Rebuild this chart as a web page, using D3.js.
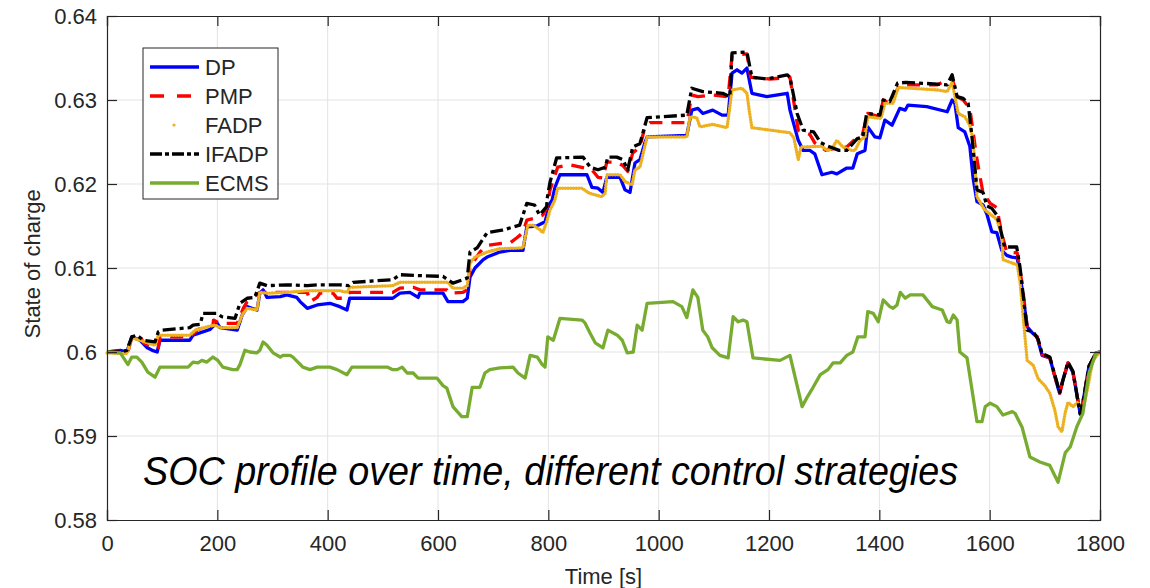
<!DOCTYPE html>
<html>
<head>
<meta charset="utf-8">
<script src="https://cdn.jsdelivr.net/npm/d3@7"></script>
<style>
  body { margin: 0; background: #fff; }
  svg text { font-family: "Liberation Sans", Arial, sans-serif; fill: #262626; }
</style>
</head>
<body>
<div id="chart"></div>
<script>
// series: [time s, state of charge]
var dpData = [[0,.6000],[24,.6002],[36,.6000],[45,.6018],[60,.6014],[73,.6005],[82,.6002],[91,.6000],[96,.6014],[150,.6014],[156,.6020],[187,.6027],[199,.6035],[205,.6029],[236,.6026],[245,.6044],[254,.6054],[272,.6050],[277,.6070],[283,.6074],[290,.6065],[314,.6066],[326,.6068],[344,.6065],[350,.6060],[363,.6052],[381,.6056],[404,.6058],[422,.6054],[435,.6050],[440,.6064],[518,.6064],[531,.6070],[549,.6071],[564,.6065],[567,.6070],[609,.6070],[618,.6060],[645,.6060],[653,.6064],[658,.6089],[667,.6100],[682,.6110],[689,.6113],[712,.6119],[731,.6121],[754,.6121],[761,.6149],[779,.6150],[794,.6155],[798,.6165],[803,.6177],[807,.6181],[812,.6196],[821,.6211],[870,.6211],[879,.6196],[890,.6195],[899,.6190],[906,.6208],[930,.6208],[939,.6193],[948,.6190],[957,.6225],[966,.6229],[975,.6249],[979,.6256],[1051,.6258],[1060,.6288],[1071,.6290],[1080,.6284],[1098,.6288],[1115,.6282],[1126,.6282],[1133,.6332],[1142,.6336],[1151,.6332],[1160,.6338],[1169,.6308],[1196,.6304],[1233,.6308],[1238,.6288],[1253,.6252],[1262,.6240],[1274,.6240],[1283,.6236],[1296,.6211],[1314,.6214],[1323,.6212],[1341,.6219],[1352,.6219],[1360,.6236],[1374,.6240],[1379,.6268],[1392,.6256],[1401,.6255],[1410,.6276],[1423,.6270],[1437,.6290],[1447,.6288],[1452,.6294],[1486,.6292],[1523,.6286],[1532,.6300],[1537,.6296],[1543,.6267],[1555,.6262],[1564,.6245],[1570,.6207],[1577,.6179],[1588,.6175],[1595,.6164],[1604,.6143],[1613,.6142],[1622,.6121],[1631,.6115],[1640,.6113],[1650,.6112],[1659,.6074],[1668,.6030],[1677,.6023],[1686,.6018],[1695,.5996],[1709,.5993],[1724,.5957],[1727,.5951],[1733,.5967],[1742,.5987],[1751,.5976],[1764,.5927],[1769,.5940],[1780,.5983],[1793,.5999],[1800,.6000]];

var pmpData = [[0,.6000],[24,.6001],[38,.6000],[45,.6018],[63,.6015],[66,.6011],[84,.6005],[93,.6005],[96,.6018],[150,.6018],[165,.6027],[192,.6031],[193,.6038],[205,.6034],[236,.6034],[247,.6052],[254,.6060],[277,.6071],[290,.6071],[363,.6071],[368,.6060],[381,.6065],[386,.6070],[410,.6070],[417,.6064],[431,.6064],[440,.6071],[518,.6071],[531,.6076],[555,.6077],[567,.6074],[616,.6074],[620,.6070],[645,.6071],[653,.6074],[658,.6101],[676,.6119],[689,.6127],[712,.6129],[731,.6130],[743,.6136],[754,.6142],[761,.6157],[779,.6160],[790,.6163],[798,.6173],[803,.6193],[817,.6220],[839,.6223],[879,.6217],[890,.6208],[899,.6207],[906,.6226],[924,.6226],[935,.6222],[944,.6215],[953,.6237],[966,.6244],[975,.6268],[984,.6273],[1051,.6273],[1060,.6306],[1071,.6304],[1098,.6306],[1126,.6304],[1133,.6353],[1160,.6355],[1167,.6327],[1202,.6325],[1238,.6327],[1253,.6264],[1262,.6261],[1274,.6259],[1283,.6249],[1303,.6240],[1323,.6243],[1341,.6244],[1360,.6256],[1369,.6258],[1379,.6284],[1401,.6280],[1407,.6300],[1419,.6296],[1437,.6318],[1505,.6318],[1523,.6324],[1532,.6326],[1541,.6304],[1552,.6300],[1564,.6290],[1577,.6229],[1588,.6189],[1601,.6177],[1613,.6172],[1622,.6140],[1631,.6119],[1650,.6118],[1659,.6080],[1668,.6030],[1677,.6023],[1686,.6018],[1695,.5997],[1709,.5993],[1724,.5957],[1727,.5951],[1733,.5967],[1742,.5987],[1751,.5976],[1764,.5927],[1769,.5940],[1780,.5983],[1793,.5999],[1800,.6000]];

var fadpData = [[0,.5999],[36,.5998],[45,.6017],[60,.6014],[73,.6011],[87,.6008],[93,.6020],[150,.6020],[160,.6026],[187,.6031],[196,.6032],[205,.6029],[236,.6029],[245,.6044],[254,.6052],[272,.6050],[277,.6071],[290,.6070],[326,.6071],[363,.6073],[422,.6073],[435,.6071],[440,.6077],[518,.6079],[531,.6083],[618,.6083],[627,.6076],[645,.6076],[653,.6079],[658,.6106],[667,.6113],[689,.6119],[712,.6123],[754,.6124],[763,.6151],[772,.6151],[784,.6146],[790,.6142],[798,.6157],[803,.6169],[812,.6181],[817,.6195],[861,.6195],[874,.6189],[897,.6185],[903,.6189],[906,.6211],[930,.6211],[939,.6203],[952,.6199],[957,.6217],[966,.6220],[979,.6256],[1051,.6256],[1057,.6280],[1069,.6279],[1075,.6268],[1098,.6271],[1124,.6267],[1133,.6312],[1151,.6314],[1160,.6308],[1164,.6288],[1169,.6267],[1238,.6261],[1245,.6255],[1253,.6229],[1258,.6244],[1296,.6245],[1305,.6240],[1314,.6242],[1323,.6252],[1334,.6244],[1350,.6240],[1356,.6240],[1365,.6252],[1374,.6256],[1379,.6280],[1403,.6278],[1410,.6296],[1425,.6296],[1434,.6315],[1505,.6312],[1523,.6310],[1532,.6321],[1543,.6284],[1555,.6280],[1564,.6270],[1570,.6252],[1577,.6185],[1590,.6170],[1601,.6164],[1613,.6158],[1622,.6138],[1624,.6110],[1640,.6106],[1650,.6104],[1655,.6083],[1664,.6018],[1668,.5990],[1679,.5984],[1688,.5968],[1700,.5960],[1709,.5951],[1718,.5931],[1724,.5911],[1731,.5905],[1737,.5928],[1742,.5940],[1751,.5935],[1760,.5940],[1769,.5931],[1778,.5958],[1787,.5990],[1800,.6000]];

var ifadpData = [[0,.6000],[24,.6000],[36,.6002],[45,.6018],[54,.6020],[66,.6014],[87,.6012],[93,.6024],[100,.6026],[150,.6029],[156,.6032],[169,.6033],[174,.6046],[199,.6046],[208,.6042],[232,.6040],[241,.6058],[254,.6064],[268,.6065],[277,.6082],[290,.6079],[326,.6080],[363,.6079],[381,.6080],[422,.6080],[438,.6079],[446,.6083],[518,.6086],[531,.6092],[564,.6091],[609,.6090],[627,.6082],[645,.6086],[653,.6088],[658,.6119],[671,.6124],[689,.6142],[716,.6145],[748,.6151],[761,.6177],[775,.6175],[784,.6163],[797,.6173],[798,.6183],[803,.6202],[815,.6231],[863,.6232],[876,.6220],[890,.6217],[903,.6220],[908,.6232],[924,.6232],[935,.6229],[944,.6217],[953,.6244],[966,.6248],[979,.6279],[1051,.6282],[1060,.6314],[1080,.6310],[1116,.6308],[1129,.6304],[1133,.6356],[1160,.6357],[1169,.6327],[1196,.6325],[1233,.6330],[1238,.6327],[1251,.6284],[1262,.6264],[1281,.6262],[1294,.6249],[1307,.6245],[1327,.6240],[1341,.6240],[1360,.6254],[1370,.6256],[1377,.6284],[1401,.6282],[1407,.6300],[1419,.6298],[1433,.6320],[1448,.6321],[1505,.6319],[1523,.6318],[1532,.6330],[1541,.6304],[1552,.6302],[1561,.6296],[1568,.6256],[1577,.6193],[1588,.6190],[1595,.6174],[1604,.6171],[1613,.6163],[1619,.6148],[1627,.6125],[1649,.6125],[1655,.6101],[1668,.6026],[1679,.6024],[1688,.6015],[1695,.5998],[1709,.5994],[1724,.5959],[1727,.5952],[1733,.5967],[1742,.5988],[1751,.5977],[1764,.5926],[1769,.5940],[1780,.5983],[1793,.5999],[1800,.6000]];

var ecmsData = [[0,.6000],[24,.5999],[33,.5990],[38,.5985],[45,.5994],[54,.5994],[63,.5988],[74,.5976],[87,.5970],[96,.5982],[147,.5982],[156,.5988],[165,.5987],[172,.5990],[181,.5988],[192,.5994],[201,.5990],[210,.5982],[228,.5979],[236,.5979],[241,.5985],[250,.6002],[259,.6000],[272,.5999],[277,.6002],[283,.6012],[290,.6008],[301,.5999],[314,.5994],[319,.5996],[332,.5996],[337,.5994],[355,.5982],[368,.5979],[381,.5982],[404,.5982],[417,.5979],[435,.5973],[444,.5982],[508,.5982],[518,.5979],[526,.5979],[535,.5982],[544,.5975],[555,.5975],[564,.5969],[598,.5969],[609,.5960],[616,.5957],[627,.5935],[643,.5923],[653,.5923],[662,.5958],[676,.5958],[685,.5975],[694,.5979],[712,.5981],[736,.5982],[745,.5975],[758,.5969],[767,.5996],[780,.5994],[789,.5985],[794,.5982],[799,.6018],[809,.6014],[821,.6040],[861,.6038],[866,.6035],[876,.6022],[885,.6011],[899,.6005],[908,.6026],[925,.6020],[934,.6014],[943,.5999],[954,.6000],[961,.6032],[970,.6026],[979,.6058],[1026,.6060],[1042,.6054],[1051,.6041],[1062,.6074],[1071,.6065],[1080,.6026],[1089,.6018],[1097,.6005],[1111,.5996],[1126,.5993],[1135,.6042],[1144,.6036],[1153,.6038],[1160,.6036],[1171,.5993],[1220,.5990],[1238,.5996],[1260,.5935],[1269,.5946],[1280,.5958],[1293,.5973],[1307,.5979],[1316,.5987],[1329,.5987],[1341,.5996],[1352,.6000],[1361,.6018],[1374,.6018],[1379,.6048],[1389,.6046],[1398,.6036],[1407,.6062],[1419,.6054],[1425,.6052],[1432,.6056],[1438,.6071],[1447,.6064],[1456,.6068],[1479,.6068],[1496,.6054],[1514,.6050],[1523,.6036],[1528,.6035],[1534,.6044],[1541,.6038],[1546,.6000],[1559,.5993],[1577,.5917],[1586,.5917],[1592,.5935],[1601,.5939],[1613,.5935],[1624,.5925],[1641,.5929],[1646,.5927],[1659,.5910],[1673,.5875],[1691,.5869],[1709,.5865],[1724,.5845],[1737,.5880],[1746,.5887],[1758,.5911],[1769,.5927],[1780,.5975],[1793,.5999],[1800,.6000]];

var seriesNames = ["DP", "PMP", "FADP", "IFADP", "ECMS"];
var xTicks = [0, 200, 400, 600, 800, 1000, 1200, 1400, 1600, 1800];
var yTicks = [0.58, 0.59, 0.6, 0.61, 0.62, 0.63, 0.64];
var annotation = "SOC profile over time, different control strategies";

var W = 1150, H = 588;
var margin = {top: 16, right: 50, bottom: 68, left: 107};
var width = W - margin.left - margin.right,
    height = H - margin.top - margin.bottom;

var svg = d3.select("#chart").append("svg")
  .attr("width", W).attr("height", H);
var g = svg.append("g")
  .attr("transform", "translate(" + margin.left + "," + margin.top + ")");

var x = d3.scaleLinear().domain([0, 1800]).range([0, width]);
var y = d3.scaleLinear().domain([0.58, 0.64]).range([height, 0]);

// grid
g.append("g").selectAll("line").data(xTicks.slice(1, -1)).enter().append("line")
  .attr("x1", d => x(d)).attr("x2", d => x(d)).attr("y1", 0).attr("y2", height)
  .attr("stroke", "#e3e3e3").attr("stroke-width", 1);
g.append("g").selectAll("line").data(yTicks.slice(1, -1)).enter().append("line")
  .attr("y1", d => y(d)).attr("y2", d => y(d)).attr("x1", 0).attr("x2", width)
  .attr("stroke", "#e3e3e3").attr("stroke-width", 1);

// series
var styles = {
  DP:    {data: dpData,    color: "#0000ff", dash: null,          w: 3.3},
  PMP:   {data: pmpData,   color: "#ff0000", dash: "13,9",        w: 3.3},
  FADP:  {data: fadpData,  color: "#EDB120", dash: "0.1,2.6",     w: 3.4},
  IFADP: {data: ifadpData, color: "#000000", dash: "13,4,4,4",    w: 3.3},
  ECMS:  {data: ecmsData,  color: "#77AC30", dash: null,          w: 3.3}
};

var line = d3.line().x(d => x(d[0])).y(d => y(d[1]));

seriesNames.forEach(function(n) {
  var s = styles[n];
  g.append("path").datum(s.data)
    .attr("d", line)
    .attr("fill", "none")
    .attr("stroke", s.color)
    .attr("stroke-width", s.w)
    .attr("stroke-linejoin", "round")
    .attr("stroke-linecap", n == "FADP" ? "round" : "butt")
    .attr("stroke-dasharray", s.dash);
});

// axes, matlab style box with inward ticks
var axX = g.append("g").attr("transform", "translate(0," + height + ")")
  .call(d3.axisBottom(x).tickValues(xTicks).tickSize(-10).tickPadding(15).tickFormat(d3.format("d")));
var axXt = g.append("g")
  .call(d3.axisTop(x).tickValues(xTicks).tickSize(-10).tickFormat(""));
var axY = g.append("g")
  .call(d3.axisLeft(y).tickValues(yTicks).tickSize(-10).tickPadding(10).tickFormat(d => d3.format(".2f")(d).replace(/0$/, "").replace(/\.$/, "")));
var axYr = g.append("g").attr("transform", "translate(" + width + ",0)")
  .call(d3.axisRight(y).tickValues(yTicks).tickSize(-10).tickFormat(""));

[axX, axXt, axY, axYr].forEach(function(a) {
  a.select(".domain").attr("stroke", "#262626").attr("stroke-width", 1.2);
  a.selectAll(".tick line").attr("stroke", "#262626").attr("stroke-width", 1.2);
  a.selectAll("text").attr("font-size", 22).attr("fill", "#262626")
    .attr("font-family", "Liberation Sans, Arial, sans-serif");
});
axY.selectAll("text").attr("dy", "0.36em");

// axis labels
svg.append("text")
  .attr("x", margin.left + width / 2).attr("y", 584)
  .attr("text-anchor", "middle").attr("font-size", 22)
  .text("Time [s]");
svg.append("text")
  .attr("transform", "translate(40," + (margin.top + y(0.6105)) + ") rotate(-90)")
  .attr("text-anchor", "middle").attr("font-size", 22)
  .text("State of charge");

// legend
var lg = svg.append("g").attr("transform", "translate(143,48)");
lg.append("rect").attr("width", 135).attr("height", 151)
  .attr("fill", "#fff").attr("stroke", "#262626").attr("stroke-width", 1);
seriesNames.forEach(function(n, i) {
  var s = styles[n];
  var yy = 19 + i * 29;
  if (n == "FADP") {
    lg.append("circle").attr("cx", 31).attr("cy", yy).attr("r", 1.6).attr("fill", s.color);
  } else {
    lg.append("line").attr("x1", 7).attr("x2", 56).attr("y1", yy).attr("y2", yy)
      .attr("stroke", s.color).attr("stroke-width", s.w)
      .attr("stroke-dasharray", n == "PMP" ? "14,13" : (n == "IFADP" ? "12,3,4,3" : null));
  }
  lg.append("text").attr("x", 62).attr("y", yy).attr("dy", "0.36em")
    .attr("font-size", 22).attr("fill", "#000").text(n);
});

// caption over the plot
svg.append("text")
  .attr("x", 143).attr("y", 485)
  .attr("font-family", "Open Sans, sans-serif")
  .attr("font-style", "italic")
  .attr("font-size", 40)
  .attr("textLength", 815).attr("lengthAdjust", "spacingAndGlyphs")
  .style("fill", "#000")
  .text(annotation);
</script>
</body>
</html>
